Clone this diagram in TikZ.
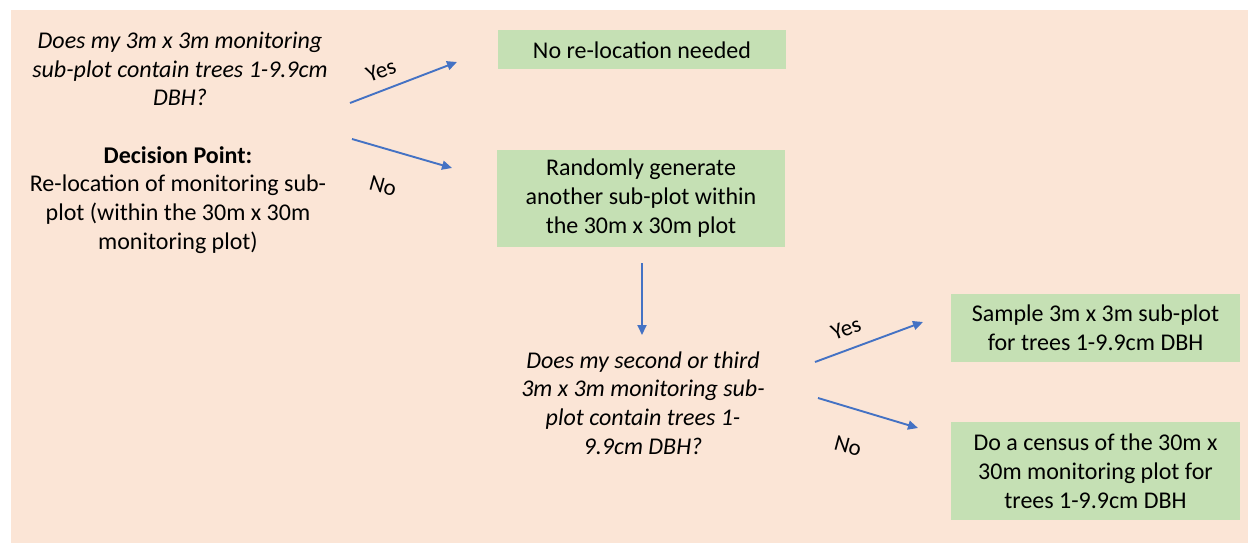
\documentclass[tikz,border=0pt]{standalone}
\usepackage{fontspec}
\setmainfont{Carlito}
\usetikzlibrary{arrows.meta}
\definecolor{peach}{HTML}{FBE5D6}
\definecolor{boxgreen}{HTML}{C5E0B4}
\definecolor{arrowblue}{HTML}{4472C4}
\tikzset{
  txt/.style={align=center, inner sep=0pt, font=\fontsize{24}{28.8}\selectfont},
  itxt/.style={txt, font=\fontsize{24}{28.8}\selectfont\itshape},
  gbox/.style={fill=boxgreen, draw=none, align=center, inner sep=0pt, font=\fontsize{24}{29}\selectfont},
  flow/.style={draw=arrowblue, line width=1.9pt, -{Triangle[length=10pt,width=9pt]}},
  lbl/.style={inner sep=0pt, font=\fontsize{23}{26}\selectfont}
}
\begin{document}
\begin{tikzpicture}[x=1pt,y=-1pt]
\useasboundingbox (0,0) rectangle (1248,543);
\fill[peach] (11,10) rectangle (1248,543);
% green boxes
\node[gbox, minimum width=288pt, minimum height=39pt] (b1) at (642,50) {No re-location needed};
\node[gbox, minimum width=288pt, minimum height=97pt] (b2) at (641,198.5) {Randomly generate\\another sub-plot within\\the 30m x 30m plot};
\node[gbox, minimum width=289pt, minimum height=68pt] (b3) at (1095.5,328) {Sample 3m x 3m sub-plot\\for trees 1-9.9cm DBH};
\node[gbox, minimum width=289pt, minimum height=98pt] (b4) at (1095.5,471) {Do a census of the 30m x\\30m monitoring plot for\\trees 1-9.9cm DBH};
% texts
\node[itxt] (q1) at (180,69) {Does my 3m x 3m monitoring\\sub-plot contain trees 1-9.9cm\\DBH?};
\node[txt] (dp) at (178,200) {\textbf{Decision Point:}\\Re-location of monitoring sub-\\plot (within the 30m x 30m\\monitoring plot)};
\node[itxt] (q2) at (643,403) {Does my second or third\\3m x 3m monitoring sub-\\plot contain trees 1-\\9.9cm DBH?};
% arrow endpoints
\coordinate (y1s) at (350,103);
\coordinate (y1e) at (457,62);
\coordinate (n1s) at (352,139);
\coordinate (n1e) at (452,168);
\coordinate (ds) at (642,263);
\coordinate (de) at (642,335);
\coordinate (y2s) at (815,362);
\coordinate (y2e) at (923,322);
\coordinate (n2s) at (818,398);
\coordinate (n2e) at (918,428);
\draw[flow] (y1s) -- (y1e);
\draw[flow] (n1s) -- (n1e);
\draw[flow] (ds) -- (de);
\draw[flow] (y2s) -- (y2e);
\draw[flow] (n2s) -- (n2e);
% labels
\node[lbl, rotate=20] (ly1) at (381,71) {Yes};
\node[lbl, rotate=-15] (ln1) at (383,186) {No};
\node[lbl, rotate=20] (ly2) at (846,329) {Yes};
\node[lbl, rotate=-15] (ln2) at (848,446) {No};
\end{tikzpicture}
\end{document}
